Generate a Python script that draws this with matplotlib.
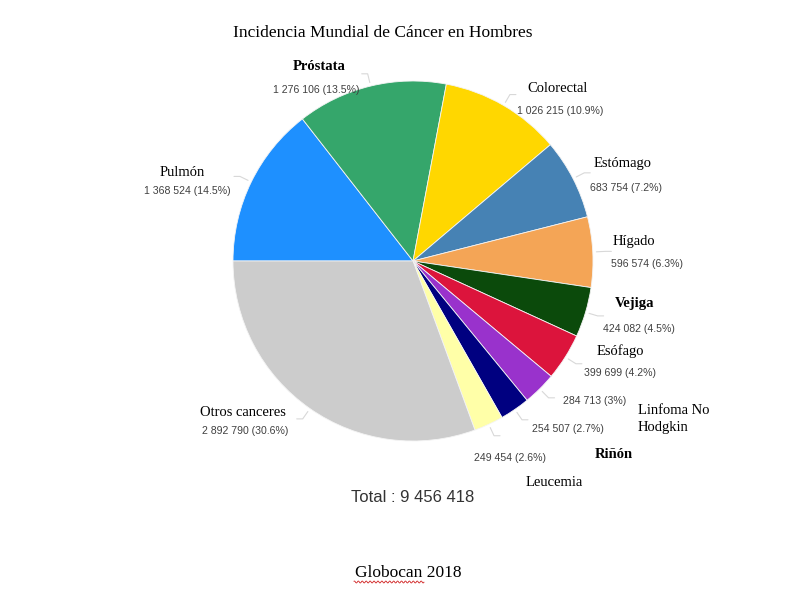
"""
Incidencia mundial de cancer en hombres (Globocan 2018), pie chart.
"""

import numpy as np
import matplotlib
matplotlib.use("Agg")
import matplotlib.pyplot as plt

# data
sites = ["Pulmón", "Próstata", "Colorectal", "Estómago", "Hígado", "Vejiga",
         "Esófago", "Linfoma No\nHodgkin", "Riñón", "Leucemia", "Otros canceres"]
cases = [1368524, 1276106, 1026215, 683754, 596574, 424082,
         399699, 284713, 254507, 249454, 2892790]
colors = ["#1E90FF", "#35A66B", "#FFD700", "#4682B4", "#F4A556", "#0B4A0B",
          "#DC143C", "#9932CC", "#000080", "#FFFFA8", "#CCCCCC"]
bold = ["Próstata", "Vejiga", "Riñón"]

# label layout in figure pixels (x, y from top): name, value
name_pos = [(182, 172), (319, 67), (558, 89), (623, 164), (634, 242),
            (635, 304), (620, 351), (638, 419), (614, 454), (554, 482),
            (243, 413)]
value_pos = [(187, 191), (316, 90), (560, 111), (626, 188), (647, 264),
             (639, 329), (620, 373), (595, 401), (568, 429), (510, 458),
             (245, 431)]

SERIF = ["Liberation Serif", "DejaVu Serif"]
SANS = ["Liberation Sans", "DejaVu Sans"]


def fmt(n):
    return "{:,}".format(n).replace(",", " ")


def pct(v, tot):
    p = round(100.0 * v / tot, 1)
    return "{:g}%".format(p)


fig = plt.figure(figsize=(8, 6), dpi=100)
ax = fig.add_axes([0, 0, 1, 1])

cx, cy, R = 413, 600 - 261, 180
wedges, _ = ax.pie(cases, colors=colors, startangle=180, counterclock=False,
                   center=(cx, cy), radius=R, frame=True,
                   wedgeprops=dict(edgecolor="#f4f4f4", linewidth=0.6))
ax.set_xlim(0, 800)
ax.set_ylim(0, 600)
ax.set_aspect("auto")
ax.axis("off")

total = sum(cases)

# leader lines
for w in wedges:
    ang = np.deg2rad((w.theta1 + w.theta2) / 2.0)
    x0, y0 = cx + 1.02 * R * np.cos(ang), cy + 1.02 * R * np.sin(ang)
    x1, y1 = cx + 1.07 * R * np.cos(ang), cy + 1.07 * R * np.sin(ang)
    side = 1 if np.cos(ang) >= 0 else -1
    ax.plot([x0, x1, x1 + side * 6], [y0, y1, y1], color="#d8d8d8",
            lw=0.8, solid_capstyle="round")

for i, s in enumerate(sites):
    nx, ny = name_pos[i]
    vx, vy = value_pos[i]
    ha = "left" if s.startswith("Linfoma") else "center"
    ax.text(nx, 600 - ny, s, ha=ha, va="center", family=SERIF,
            fontsize=10.5, color="black",
            fontweight="bold" if s in bold else "normal",
            linespacing=1.35)
    ax.text(vx, 600 - vy, "{} ({})".format(fmt(cases[i]), pct(cases[i], total)),
            ha="center", va="center", family=SANS, fontsize=7.6, color="#404040")

ax.text(383, 600 - 33, "Incidencia Mundial de Cáncer en Hombres", ha="center",
        va="center", family=SERIF, fontsize=12.5, color="black")
ax.text(413, 600 - 498, "Total : " + fmt(total), ha="center", va="center",
        family=SANS, fontsize=12, color="#333333")
ax.text(408, 600 - 573, "Globocan 2018", ha="center", va="center",
        family=SERIF, fontsize=12.5, color="black")

# spell-check squiggle under "Globocan"
xs = np.linspace(354, 424, 120)
ax.plot(xs, 600 - 582 + 1.0 * np.sin(xs * 1.6), color="#d02020", lw=0.6)

fig.savefig("out.png", dpi=100)
